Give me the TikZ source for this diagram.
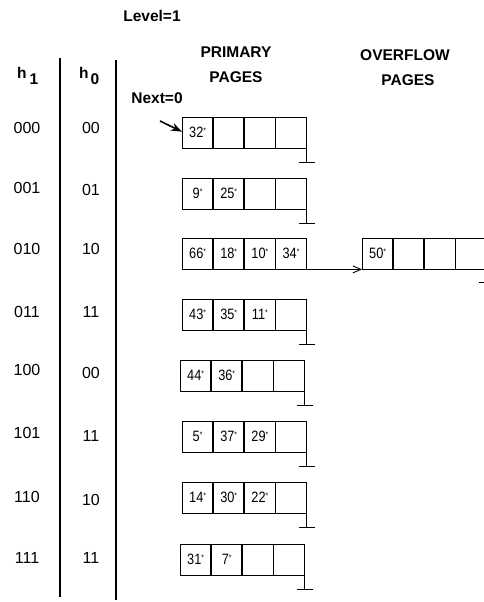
\documentclass[tikz,border=0pt]{standalone}
\usepackage{fontspec}
\usepackage{graphicx}
\setmainfont{Liberation Sans}
\usetikzlibrary{arrows.meta}
\newcommand\kv[1]{\scalebox{0.85}[1]{#1\raisebox{4.5pt}{\fontsize{8}{8}\selectfont *}}}
\begin{document}
\begin{tikzpicture}[x=1pt,y=-1pt,
  lbl/.style={font=\fontsize{16}{18}\selectfont, inner sep=0},
  hdr/.style={font=\bfseries\fontsize{15.5}{18}\selectfont, inner sep=0},
  cell/.style={draw, line width=0.9pt, minimum width=30.25pt, minimum height=30.5pt, inner sep=0, anchor=north west, font=\fontsize{15}{16}\selectfont},
  sepline/.style={line width=1.2pt},
  groundline/.style={line width=0.9pt}]
\useasboundingbox (0,0) rectangle (483,602);
% headers
\node[hdr] (level) at (152,16) {Level=1};
\node[hdr] (prim1) at (236,52) {PRIMARY};
\node[hdr] (prim2) at (236,77) {PAGES};
\node[hdr] (ovf1) at (405,55) {OVERFLOW};
\node[hdr] (ovf2) at (408,80) {PAGES};
\node[hdr] (next) at (157,98) {Next=0};
\node[hdr, anchor=base west] (hA) at (17,78) {h\hspace{3pt}\raisebox{-6pt}{1}};
\node[hdr, anchor=base west] (hB) at (79,78) {h\hspace{2pt}\raisebox{-6pt}{0}};
% separators
\coordinate (v1t) at (60,58); \coordinate (v1b) at (60,597);
\coordinate (v2t) at (116,60); \coordinate (v2b) at (116,600);
\draw[sepline] (v1t) -- (v1b);
\draw[sepline] (v2t) -- (v2b);
% row labels
\foreach \r/\ya/\yb/\la/\lb in {1/128/128/000/00, 2/188/190/001/01, 3/249/249/010/10, 4/312/312/011/11, 5/370/373/100/00, 6/433/436/101/11, 7/497/500/110/10, 8/558/558/111/11}{
  \node[lbl] (hl\r) at (27,\ya) {\la};
  \node[lbl] (hm\r) at (91,\yb) {\lb};
}
% primary pages
\foreach \r/\x/\t/\a/\b/\c/\d/\g in {
  1/182/117/{\kv{32}}/{}/{}/{}/1,
  2/182/178/{\kv{9}}/{\kv{25}}/{}/{}/1,
  3/182/238/{\kv{66}}/{\kv{18}}/{\kv{10}}/{\kv{34}}/0,
  4/182/299/{\kv{43}}/{\kv{35}}/{\kv{11}}/{}/1,
  5/180/360/{\kv{44}}/{\kv{36}}/{}/{}/1,
  6/182/421/{\kv{5}}/{\kv{37}}/{\kv{29}}/{}/1,
  7/182/482/{\kv{14}}/{\kv{30}}/{\kv{22}}/{}/1,
  8/180/544/{\kv{31}}/{\kv{7}}/{}/{}/1}{
  \node[cell] (c\r-1) at (\x,\t) {\a};
  \node[cell] (c\r-2) at (c\r-1.north east) {\b};
  \node[cell] (c\r-3) at (c\r-2.north east) {\c};
  \node[cell] (c\r-4) at (c\r-3.north east) {\d};
  \ifnum\g>0
    \draw[groundline] (c\r-4.south east) -- ++(0,14) coordinate (g\r);
    \draw[groundline] ([xshift=-8pt]g\r) -- ([xshift=8pt]g\r);
  \fi
}
% overflow page
\node[cell] (o1) at (362,238) {\kv{50}};
\node[cell] (o2) at (o1.north east) {};
\node[cell] (o3) at (o2.north east) {};
\node[cell] (o4) at (o3.north east) {};
\draw[groundline] (o4.south east) -- ++(0,13) coordinate (go);
\draw[groundline] ([xshift=-8pt]go) -- ([xshift=8pt]go);
\draw[line width=0.9pt, -{Straight Barb[length=8pt,width=7pt]}] (c3-4.south east) -- (o1.south west);
% next pointer
\coordinate (nx) at (160,121);
\draw[line width=1.6pt, -{Stealth[length=11pt,width=8pt]}] (nx) -- ([yshift=1pt]c1-1.west);
\end{tikzpicture}
\end{document}
